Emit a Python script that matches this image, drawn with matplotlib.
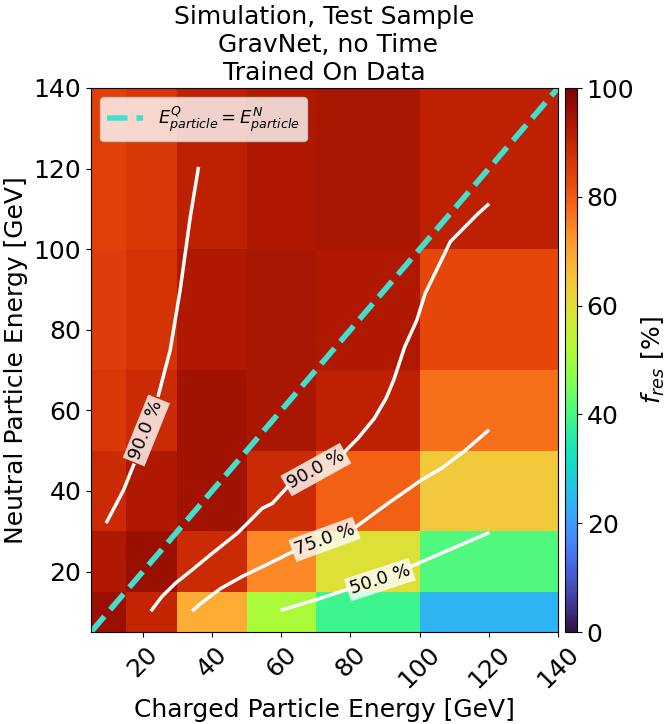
import numpy as np
import matplotlib.pyplot as plt

# bin edges (GeV)
x_edges = [5, 15, 30, 50, 70, 100, 140]
y_edges = [5, 15, 30, 50, 70, 100, 140]

# f_res [%], rows = neutral energy bins (bottom -> top), cols = charged energy bins
f_res = np.array([
    [96, 90, 69, 51, 39, 24],
    [93, 96, 89, 74, 59, 41],
    [89, 93, 95, 89, 79, 64],
    [86, 89, 95, 94, 91, 77],
    [85, 87, 93, 94, 93, 83],
    [84, 86, 91, 93, 94, 91],
])

nan = np.nan
# contour paths, nan = gap for the label
c90a_x = [9.6, 14.4, 17.3, nan, 24.5, 27.9, 30.8, 33.7, 36.0]
c90a_y = [32.4, 40.2, 46.4, nan, 63.8, 75.0, 90.0, 108.0, 120.0]
c90b_x = [22.6, 25.5, 29.4, 34.2, 40.0, 47.3, 50.7, 54.5, 57.4, 61.8, nan,
          78.3, 82.1, 86.9, 90.3, 92.5, 95.7, 99.2, 101.6, 108.9, 116.5, 119.7]
c90b_y = [10.5, 13.8, 17.1, 20.4, 24.5, 29.5, 32.4, 35.7, 36.9, 41.0, nan,
          49.7, 53.0, 58.0, 63.0, 67.5, 75.8, 82.4, 89.0, 101.9, 108.5, 111.0]
c75_x = [34.6, 36.6, 42.5, 49.2, 56.0, 63.5, nan, 81.6, 90.8, 100.5, 106.3, 113.1, 119.7]
c75_y = [10.5, 12.0, 15.8, 19.0, 21.8, 25.0, nan, 31.1, 36.9, 42.7, 45.6, 50.0, 54.9]
c50_x = [60.3, 70.0, 80.0, nan, 97.6, 108.0, 119.7]
c50_y = [10.5, 13.0, 15.8, nan, 21.3, 25.2, 29.5]

contours = [(c90a_x, c90a_y), (c90b_x, c90b_y), (c75_x, c75_y), (c50_x, c50_y)]
labels = [("90.0 %", 21.0, 55.0, 68), ("90.0 %", 70.0, 45.3, 29),
          ("75.0 %", 72.5, 28.0, 20), ("50.0 %", 88.5, 18.0, 18)]

fig = plt.figure(figsize=(6.68, 7.24), dpi=100)
ax = fig.add_axes([91 / 668, 92 / 724, 467 / 668, 544 / 724])
cax = fig.add_axes([565 / 668, 92 / 724, 12 / 668, 544 / 724])

mesh = ax.pcolormesh(x_edges, y_edges, f_res, cmap='turbo', vmin=0, vmax=100)

for cx, cy in contours:
    ax.plot(cx, cy, color='white', lw=2.5)
for txt, lx, ly, rot in labels:
    ax.text(lx, ly, txt, fontsize=13, rotation=rot, ha='center', va='center',
            rotation_mode='anchor',
            bbox=dict(facecolor='white', alpha=0.8, edgecolor='none', pad=2))

ax.plot([5, 140], [5, 140], '--', color='turquoise', lw=4,
        label=r'$E^Q_{particle} = E^N_{particle}$')
ax.legend(loc='upper left', fontsize=13)

ax.set_xlim(5, 140)
ax.set_ylim(5, 140)
ax.set_xticks([20, 40, 60, 80, 100, 120, 140])
ax.set_yticks([20, 40, 60, 80, 100, 120, 140])
ax.tick_params(labelsize=18)
plt.setp(ax.get_xticklabels(), rotation=45)
ax.set_xlabel('Charged Particle Energy [GeV]', fontsize=18)
ax.set_ylabel('Neutral Particle Energy [GeV]', fontsize=18)
ax.set_title('Simulation, Test Sample\n GravNet, no Time\nTrained On Data', fontsize=18)

cb = fig.colorbar(mesh, cax=cax)
cb.set_ticks([0, 20, 40, 60, 80, 100])
cb.ax.tick_params(labelsize=18)
cb.set_label(r'$f_{res}$ [%]', fontsize=18)

fig.savefig('out.png', dpi=100)
